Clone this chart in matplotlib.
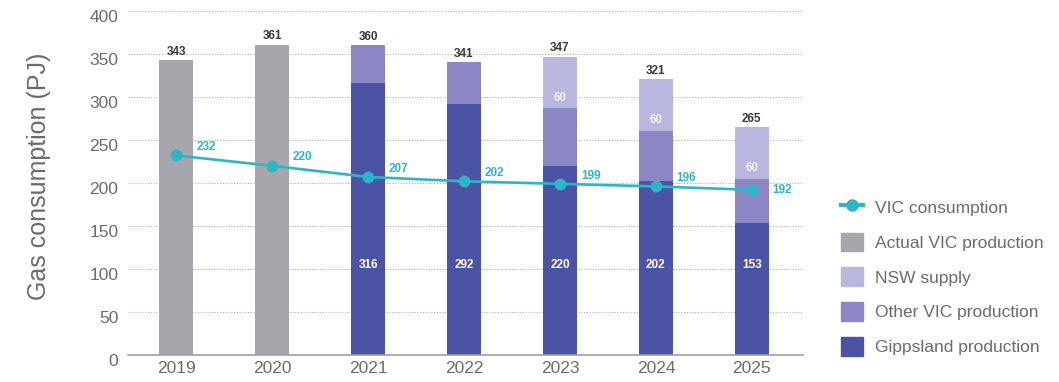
import matplotlib.pyplot as plt
import matplotlib.transforms as mtransforms
from matplotlib.lines import Line2D
from matplotlib.patches import Patch
import numpy as np

years = ["2019", "2020", "2021", "2022", "2023", "2024", "2025"]
actual_vic = [343, 361, 0, 0, 0, 0, 0]
gippsland = [0, 0, 316, 292, 220, 202, 153]
other_vic = [0, 0, 44, 49, 67, 59, 52]
nsw_supply = [0, 0, 0, 0, 60, 60, 60]
totals = [343, 361, 360, 341, 347, 321, 265]
consumption = [232, 220, 207, 202, 199, 196, 192]

c_actual = "#a5a7ac"
c_gipps = "#4b53a4"
c_other = "#8b87c5"
c_nsw = "#bab7de"
c_line = "#2db5c8"
c_text = "#6b6b6b"

plt.rcParams["font.family"] = ["Liberation Sans", "DejaVu Sans"]

fig = plt.figure(figsize=(10.59, 3.82), dpi=100)
ax = fig.add_axes([0.121, 0.0707, 0.637, 0.9005])

x = np.arange(len(years))
w = 0.36
ax.bar(x, actual_vic, w, color=c_actual, zorder=2)
ax.bar(x, gippsland, w, color=c_gipps, zorder=2)
ax.bar(x, other_vic, w, bottom=gippsland, color=c_other, zorder=2)
bottom_nsw = np.array(gippsland) + np.array(other_vic)
ax.bar(x, nsw_supply, w, bottom=bottom_nsw, color=c_nsw, zorder=2)

ax.plot(x, consumption, color=c_line, lw=1.9, marker="o", ms=7.5, zorder=4)

for i in range(len(years)):
    ax.annotate(str(totals[i]), (x[i], totals[i]), xytext=(0, 1.5),
                textcoords="offset points", ha="center", va="bottom",
                fontsize=8.5, fontweight="bold", color="#3a3a3a")
    if gippsland[i]:
        ax.text(x[i], 105, str(gippsland[i]), ha="center", va="center",
                fontsize=8.5, fontweight="bold", color="white", zorder=5)
    if nsw_supply[i]:
        ax.text(x[i], bottom_nsw[i] + 12, str(nsw_supply[i]), ha="center",
                va="center", fontsize=8.5, fontweight="bold", color="#f0f0f8",
                zorder=5)
    dy = 6 if i < 6 else 0
    ax.annotate(str(consumption[i]), (x[i], consumption[i]), xytext=(15, dy),
                textcoords="offset points", ha="left", va="center",
                fontsize=8.5, fontweight="bold", color=c_line, zorder=5)

ax.set_xlim(-0.5, 6.53)
ax.set_ylim(0, 400)
ax.set_yticks(range(0, 401, 50))
ax.set_xticks(x)
ax.set_xticklabels(years)
ax.yaxis.grid(True, linestyle=(0, (1, 1.5)), color="#b0b0b0", lw=0.8, zorder=0)
ax.set_axisbelow(True)
for s in ["top", "right", "left"]:
    ax.spines[s].set_visible(False)
ax.spines["bottom"].set_color("#a0a0a0")
ax.spines["bottom"].set_linewidth(1.2)
ax.tick_params(axis="both", length=0, labelsize=12.5, colors=c_text)
ax.tick_params(axis="y", pad=7)
ax.tick_params(axis="x", pad=4)
shift = mtransforms.ScaledTranslation(0, -5 / 100, fig.dpi_scale_trans)
for lbl in ax.get_yticklabels():
    lbl.set_transform(lbl.get_transform() + shift)
ax.set_ylabel("Gas consumption (PJ)", fontsize=18, color=c_text)
ax.yaxis.set_label_coords(-0.114, 0.52)

handles = [
    Line2D([0], [0], color=c_line, lw=3, marker="o", ms=8),
    Patch(color=c_actual),
    Patch(color=c_nsw),
    Patch(color=c_other),
    Patch(color=c_gipps),
]
labels = ["VIC consumption", "Actual VIC production", "NSW supply",
          "Other VIC production", "Gippsland production"]
fig.legend(handles, labels, loc="upper left", bbox_to_anchor=(0.779, 0.523),
           frameon=False, fontsize=12.5, labelcolor=c_text, handlelength=1.3,
           handleheight=1.3, labelspacing=0.91, handletextpad=0.7)

fig.savefig("out.png", dpi=100)
